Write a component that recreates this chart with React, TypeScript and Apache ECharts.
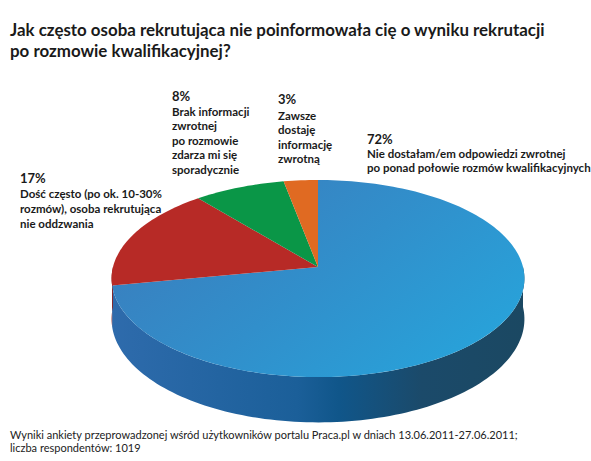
import React, { useEffect, useRef } from "react"
import * as echarts from "echarts"

// answers, clockwise from 12 o'clock
const categories = ["Nie dostałam/em", "Dość często", "Brak informacji", "Zawsze dostaję"]
const values = [72, 17, 8, 3]
const descriptions = [
  ["Nie dostałam/em odpowiedzi zwrotnej", "po ponad połowie rozmów kwalifikacyjnych"],
  ["Dość często (po ok. 10-30%", "rozmów), osoba rekrutująca", "nie oddzwania"],
  ["Brak informacji", "zwrotnej", "po rozmowie", "zdarza mi się", "sporadycznie"],
  ["Zawsze", "dostaję", "informację", "zwrotną"],
]

const TITLE = "Jak często osoba rekrutująca nie poinformowała cię o wyniku rekrutacji\npo rozmowie kwalifikacyjnej?"
const FOOTNOTE =
  "Wyniki ankiety przeprowadzonej wśród użytkowników portalu Praca.pl w dniach 13.06.2011-27.06.2011;\nliczba respondentów: 1019"

const FONT = "Lato, 'Noto Sans', sans-serif"

// pie geometry (screen px)
const CX = 318
const CY = 267
const RX = 205
const RY = 97.2
const DEPTH = 40
const PERSP = 0.117

// label anchors: [x, percent centre y, first description line centre y, line height]
const labelAnchors = [
  [367, 139, 153, 14.5],
  [20, 178, 194, 14.8],
  [172, 95.5, 111, 14.5],
  [278, 99, 115.5, 14.3],
]

const topFill = [
  () =>
    new echarts.graphic.LinearGradient(0, 0.2, 1, 0.8, [
      { offset: 0, color: "#3b7cbc" },
      { offset: 0.5, color: "#318fcb" },
      { offset: 1, color: "#27a4db" },
    ]),
  () => "#b72a26",
  () => "#0a9647",
  () => "#e06a22",
]

const sideFill = [
  () =>
    new echarts.graphic.LinearGradient(0, 0, 1, 0, [
      { offset: 0, color: "#2e6bac" },
      { offset: 0.45, color: "#1b5f99" },
      { offset: 0.55, color: "#10568a" },
      { offset: 0.75, color: "#1b4a6a" },
      { offset: 1, color: "#1b4862" },
    ]),
  () => "#8a1f1c",
  () => "#076e34",
  () => "#a84e18",
]

// angle t in radians, clockwise from top (far side)
const project = (t: number, drop = 0) => {
  const u = Math.sin(t)
  const v = -Math.cos(t)
  const s = 1 / (1 - PERSP * v)
  return [CX + RX * u * s, CY + RY * v * s + drop * s]
}

const arcPoints = (a: number, b: number, drop = 0) => {
  const pts: number[][] = []
  const n = Math.max(2, Math.ceil(((b - a) / (Math.PI * 2)) * 240))
  for (let i = 0; i <= n; i++) pts.push(project(a + ((b - a) * i) / n, drop))
  return pts
}

const total = values.reduce((s, v) => s + v, 0)
const startAngles = values.map((_, i) => (values.slice(0, i).reduce((s, v) => s + v, 0) / total) * Math.PI * 2)

export default function App() {
  const ref = useRef<HTMLDivElement>(null)

  useEffect(() => {
    document.body.style.margin = "0"
    if (!ref.current) return
    const chart = echarts.init(ref.current, undefined, { renderer: "svg" })

    const renderItem = (params: any, api: any) => {
      const i = params.dataIndex
      const v = api.value(0)
      const a = startAngles[i]
      const b = a + (v / total) * Math.PI * 2
      const children: any[] = []

      // visible front wall: between PI/2 and 3PI/2
      const fa = Math.max(a, Math.PI / 2)
      const fb = Math.min(b, (Math.PI * 3) / 2)
      if (fb > fa) {
        const topEdge = arcPoints(fa, fb)
        const bottomEdge = arcPoints(fa, fb, DEPTH).reverse()
        children.push({
          type: "polygon",
          shape: { points: topEdge.concat(bottomEdge) },
          style: { fill: sideFill[i](), stroke: null },
          z2: 1,
        })
      }

      children.push({
        type: "polygon",
        shape: { points: [[CX, CY], ...arcPoints(a, b)] },
        style: { fill: topFill[i](), stroke: null },
        z2: 2,
      })

      const [lx, py, dy, lh] = labelAnchors[i]
      children.push({
        type: "text",
        x: lx,
        y: py,
        style: {
          text: Math.round(v) + "%",
          font: `bold 13px ${FONT}`,
          fill: "#1a1a1a",
          verticalAlign: "middle",
        },
        z2: 3,
      })
      children.push({
        type: "text",
        x: lx,
        y: dy - lh / 2,
        style: {
          text: descriptions[i].join("\n"),
          font: `bold 11.5px ${FONT}`,
          lineHeight: lh,
          fill: "#1a1a1a",
          verticalAlign: "top",
        },
        z2: 3,
      })

      return { type: "group", children }
    }

    chart.setOption({
      animation: false,
      backgroundColor: "#ffffff",
      title: [
        {
          text: TITLE,
          left: 10,
          top: 19,
          padding: 0,
          textStyle: {
            fontFamily: FONT,
            fontWeight: "bold",
            fontSize: 16.9,
            lineHeight: 21,
            color: "#1a1a1a",
          },
        },
        {
          text: FOOTNOTE,
          left: 10,
          top: 428,
          padding: 0,
          textStyle: {
            fontFamily: FONT,
            fontWeight: "normal",
            fontSize: 11,
            lineHeight: 13.3,
            color: "#222222",
          },
        },
      ],
      series: [
        {
          type: "custom",
          coordinateSystem: "none",
          name: "Odpowiedzi",
          data: values.map((v, i) => ({ name: categories[i], value: [v] })),
          renderItem,
        },
      ],
    })

    return () => chart.dispose()
  }, [])

  return <div ref={ref} style={{ width: 591, height: 461 }} />
}
